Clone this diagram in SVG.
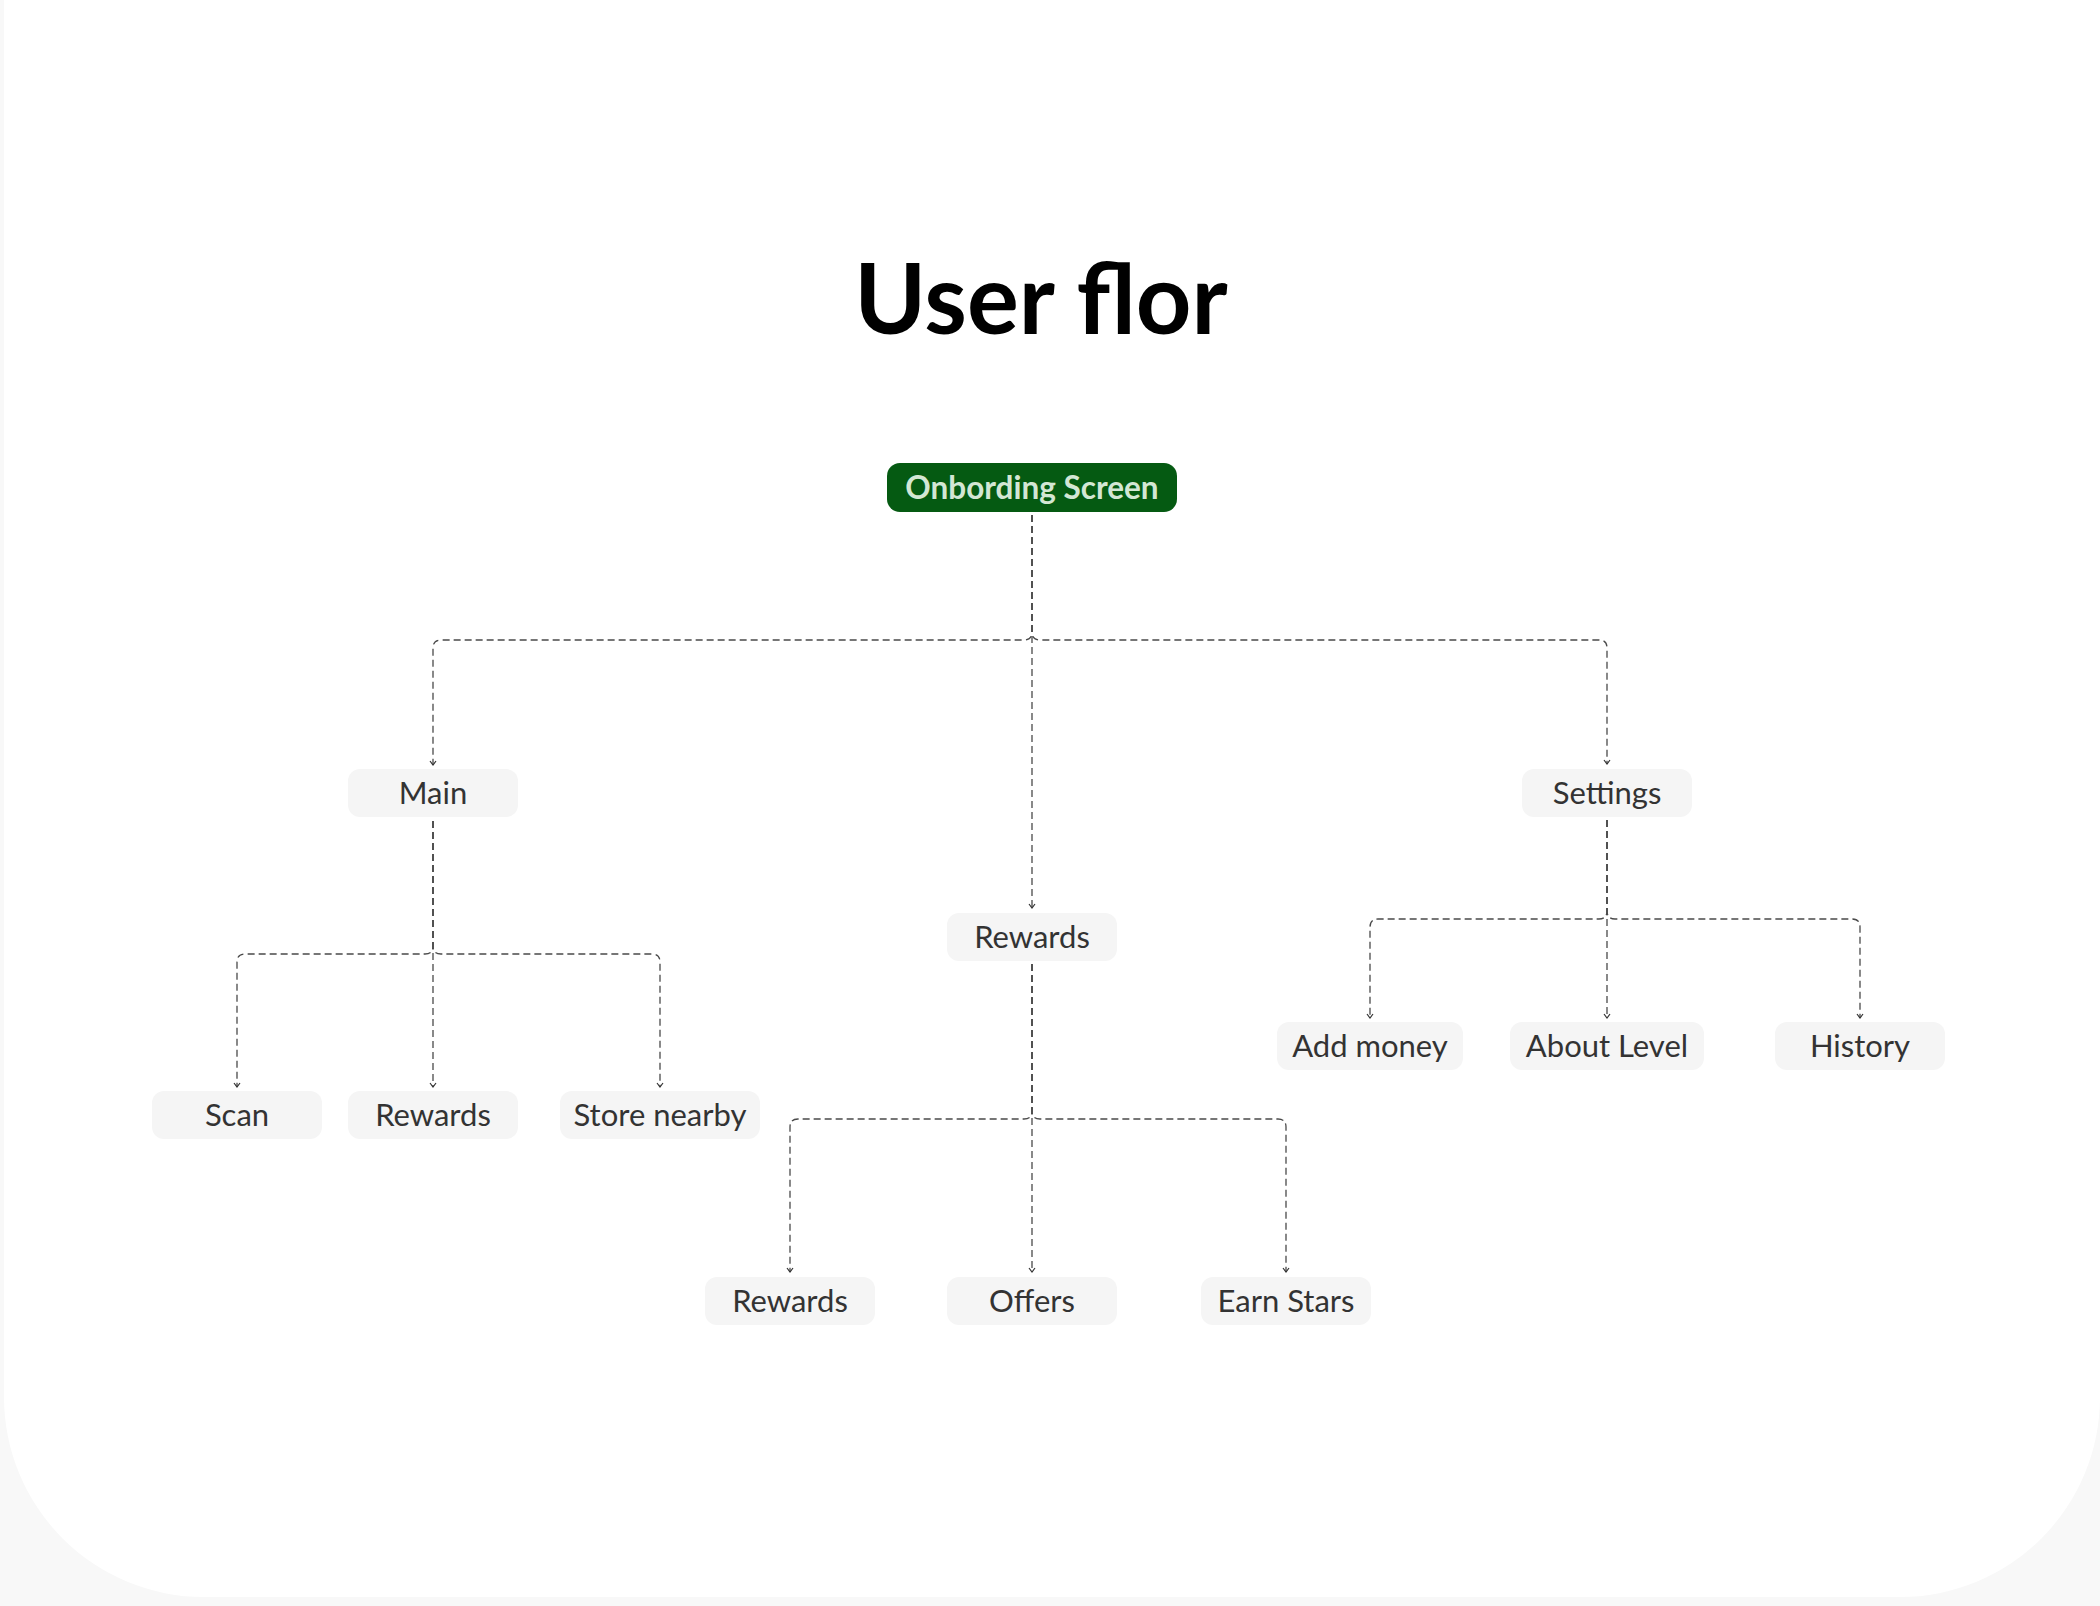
<svg xmlns="http://www.w3.org/2000/svg" width="2100" height="1606" viewBox="0 0 2100 1606">
  <style>
    .node rect { fill: #f5f5f5; }
    .node text { font-family: Lato, "Open Sans", "Liberation Sans", sans-serif; font-size: 31px; fill: #333333; text-anchor: middle; }
    .root rect { fill: #055a12; }
    .root text { font-family: Lato, "Open Sans", "Liberation Sans", sans-serif; font-size: 31.5px; font-weight: 700; fill: #d3e7d4; text-anchor: middle; }
    .title { font-family: Lato, "Open Sans", "Liberation Sans", sans-serif; font-size: 97px; font-weight: 700; fill: #000000; text-anchor: middle; }
    .conn path { fill: none; stroke: #4a4a4a; stroke-width: 1.3; stroke-dasharray: 7 4; marker-end: url(#arrow); }
  </style>
  <defs>
    <marker id="arrow" viewBox="-6 -5 8 10" markerWidth="8" markerHeight="10" refX="0" refY="0" orient="auto" markerUnits="userSpaceOnUse">
      <path d="M-4,-3 L0,0 L-4,3" fill="none" stroke="#333333" stroke-width="1.2"/>
    </marker>
  </defs>

  <rect x="0" y="0" width="2100" height="1606" fill="#f8f8f8"/>
  <path d="M4,0 L4,1397 A200,200 0 0 0 204,1597 L1900,1597 A200,200 0 0 0 2100,1397 L2100,0 Z" fill="#ffffff"/>

  <text class="title" x="1041" y="334">User flor</text>

  <g id="connectors" class="conn">
    <path d="M1032,515 V632 Q1032,640 1024,640 H441 Q433,640 433,648 V765"/>
    <path d="M1032,515 V908"/>
    <path d="M1032,515 V632 Q1032,640 1040,640 H1599 Q1607,640 1607,648 V764"/>

    <path d="M433,821 V946 Q433,954 425,954 H245 Q237,954 237,962 V1087"/>
    <path d="M433,821 V1087"/>
    <path d="M433,821 V946 Q433,954 441,954 H652 Q660,954 660,962 V1087"/>

    <path d="M1607,820 V911 Q1607,919 1599,919 H1378 Q1370,919 1370,927 V1018"/>
    <path d="M1607,820 V1018"/>
    <path d="M1607,820 V911 Q1607,919 1615,919 H1852 Q1860,919 1860,927 V1018"/>

    <path d="M1032,964 V1111 Q1032,1119 1024,1119 H798 Q790,1119 790,1127 V1272"/>
    <path d="M1032,964 V1272"/>
    <path d="M1032,964 V1111 Q1032,1119 1040,1119 H1278 Q1286,1119 1286,1127 V1272"/>
  </g>

  <g id="onbording-screen" class="root">
    <rect x="887" y="463" width="290" height="49" rx="13"/>
    <text x="1032" y="499">Onbording Screen</text>
  </g>

  <g id="main" class="node">
    <rect x="348" y="769" width="170" height="48" rx="12"/>
    <text x="433" y="804">Main</text>
  </g>
  <g id="rewards-mid" class="node">
    <rect x="947" y="913" width="170" height="48" rx="12"/>
    <text x="1032" y="948">Rewards</text>
  </g>
  <g id="settings" class="node">
    <rect x="1522" y="769" width="170" height="48" rx="12"/>
    <text x="1607" y="804">Settings</text>
  </g>

  <g id="scan" class="node">
    <rect x="152" y="1091" width="170" height="48" rx="12"/>
    <text x="237" y="1126">Scan</text>
  </g>
  <g id="rewards-main" class="node">
    <rect x="348" y="1091" width="170" height="48" rx="12"/>
    <text x="433" y="1126">Rewards</text>
  </g>
  <g id="store-nearby" class="node">
    <rect x="560" y="1091" width="200" height="48" rx="12"/>
    <text x="660" y="1126">Store nearby</text>
  </g>

  <g id="add-money" class="node">
    <rect x="1277" y="1022" width="186" height="48" rx="12"/>
    <text x="1370" y="1057">Add money</text>
  </g>
  <g id="about-level" class="node">
    <rect x="1510" y="1022" width="194" height="48" rx="12"/>
    <text x="1607" y="1057">About Level</text>
  </g>
  <g id="history" class="node">
    <rect x="1775" y="1022" width="170" height="48" rx="12"/>
    <text x="1860" y="1057">History</text>
  </g>

  <g id="rewards-sub" class="node">
    <rect x="705" y="1277" width="170" height="48" rx="12"/>
    <text x="790" y="1312">Rewards</text>
  </g>
  <g id="offers" class="node">
    <rect x="947" y="1277" width="170" height="48" rx="12"/>
    <text x="1032" y="1312">Offers</text>
  </g>
  <g id="earn-stars" class="node">
    <rect x="1201" y="1277" width="170" height="48" rx="12"/>
    <text x="1286" y="1312">Earn Stars</text>
  </g>
</svg>
